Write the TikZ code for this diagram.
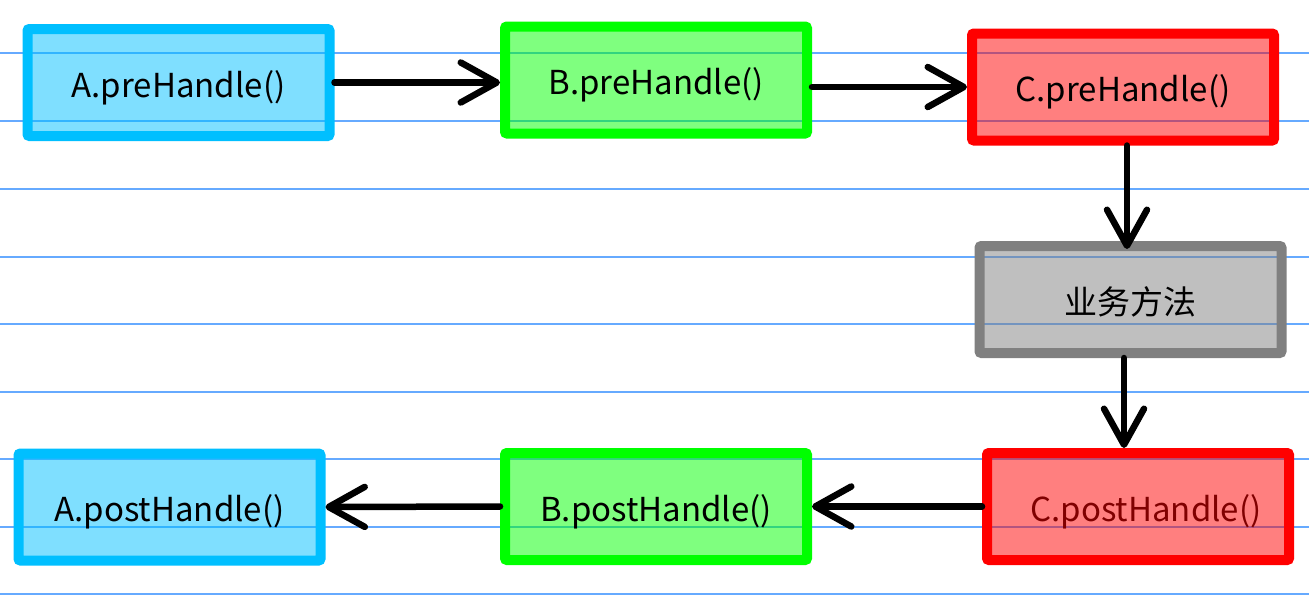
\documentclass[tikz,border=0pt]{standalone}
\usepackage{fontspec}
\setmainfont{Noto Sans CJK SC}
\usetikzlibrary{arrows.meta}
\definecolor{skyb}{RGB}{0,191,255}
\definecolor{grn}{RGB}{0,255,0}
\definecolor{rd}{RGB}{255,0,0}
\definecolor{gry}{RGB}{128,128,128}
\definecolor{gridl}{RGB}{102,170,255}
\definecolor{darkred}{RGB}{128,0,0}
\begin{document}
\begin{tikzpicture}[x=1pt,y=-1pt,
  box/.style={draw, line width=10pt, rounded corners=2pt, minimum width=302pt,
    minimum height=107pt, inner sep=0pt, fill opacity=0.5, text opacity=1,
    text height=29pt, text depth=0pt,
    font=\fontsize{33}{40}\selectfont},
  conn/.style={line width=6.5pt, line cap=round,
    -{Straight Barb[length=36pt 0 0, width=40pt 0 0, round]}},
  rule/.style={draw=gridl, line width=1.2pt}]
\useasboundingbox (0,0) rectangle (1309,595);
\foreach \y in {53,121,189,257,324,392,459,527,594}
  \path[rule] (0,\y) -- (1309,\y);
\node[box, draw=skyb, fill=skyb] (Apre) at (178.5,82.5) {A.preHandle()};
\node[box, draw=grn, fill=grn] (Bpre) at (656,80) {B.preHandle()};
\node[box, draw=rd, fill=rd] (Cpre) at (1123,87) {C.preHandle()};
\node[box, draw=gry, fill=gry] (Biz) at (1130.5,299.5) {业务方法};
\node[box, draw=skyb, fill=skyb] (Apost) at (169.5,507) {A.postHandle()};
\node[box, draw=grn, fill=grn] (Bpost) at (656,506.5) {B.postHandle()};
\node[box, draw=rd, fill=rd, text=darkred] (Cpost) at (1138,506.5) {\hspace{16pt}C.postHandle()};
\draw[conn] (Apre.east) -- (Apre.east -| Bpre.west);
\draw[conn] (Cpre.west -| Bpre.east) -- (Cpre.west);
\draw[conn, shorten >=-8pt] ([xshift=4pt]Cpre.south) -- ([xshift=4pt]Cpre.south |- Biz.north);
\draw[conn] ([xshift=-6.5pt]Biz.south) -- ([xshift=-6.5pt]Biz.south |- Cpost.north);
\draw[conn] (Cpost.west) -- (Bpost.east);
\draw[conn] (Bpost.west) -- (Apost.east);
\end{tikzpicture}
\end{document}
